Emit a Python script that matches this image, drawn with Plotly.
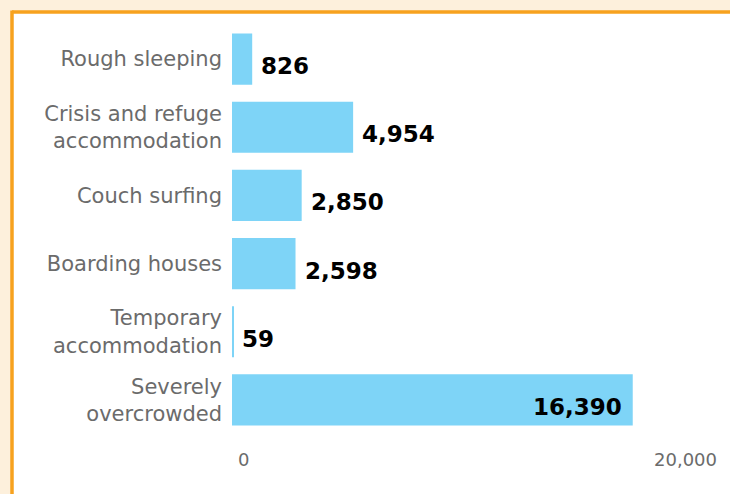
import plotly.graph_objects as go

categories = ["Rough sleeping", "Crisis and refuge<br>accommodation", "Couch surfing",
              "Boarding houses", "Temporary<br>accommodation", "Severely<br>overcrowded"]
values = [826, 4954, 2850, 2598, 59, 16390]
value_labels = ["826", "4,954", "2,850", "2,598", "59", "16,390"]
tick_values = [0, 20000]
tick_labels = ["0", "20,000"]

W, H = 730, 494
L, R, T, B = 232, 9, 25, 60
pw, ph = W - L - R, H - T - B
XMAX = 20000

def px_x(px):
    return (px - L) / pw

def px_y(py):
    return (H - B - py) / ph

fig = go.Figure(go.Bar(
    x=values, y=categories, orientation="h",
    marker=dict(color="#7ED4F7", line=dict(width=0)),
    hoverinfo="skip",
))

annotations = []
for cat, v, lab in zip(categories, values, value_labels):
    inside = v / XMAX > 0.7
    annotations.append(dict(
        x=v, y=cat, xref="x", yref="y", text=lab, showarrow=False,
        xanchor="right" if inside else "left",
        xshift=-9 if inside else 7, yshift=-7,
        font=dict(family="DejaVu Sans", size=23, color="#000000", weight="bold"),
    ))
for tv, tl in zip(tick_values, tick_labels):
    annotations.append(dict(
        x=tv, y=0, xref="x", yref="paper", text=tl, showarrow=False,
        xanchor="left" if tv == 0 else "right", yanchor="top",
        xshift=4 if tv == 0 else -2, yshift=-13,
        font=dict(family="DejaVu Sans", size=18, color="#6b6b6b"),
    ))

shapes = [
    dict(type="rect", xref="paper", yref="paper", layer="below",
         x0=px_x(12), x1=px_x(W + 5), y0=px_y(H + 5), y1=px_y(12),
         fillcolor="#FFFFFF", line=dict(width=0)),
    dict(type="line", xref="paper", yref="paper", layer="below",
         x0=px_x(12), x1=px_x(W + 5), y0=px_y(12), y1=px_y(12),
         line=dict(color="#F7A21E", width=3.5)),
    dict(type="line", xref="paper", yref="paper", layer="below",
         x0=px_x(12), x1=px_x(12), y0=px_y(10.5), y1=px_y(H + 5),
         line=dict(color="#F7A21E", width=3.5)),
]

fig.update_layout(
    width=W, height=H,
    margin=dict(l=L, r=R, t=T, b=B, pad=0),
    paper_bgcolor="#FDF0DC", plot_bgcolor="rgba(0,0,0,0)",
    bargap=0.25, showlegend=False, hovermode=False,
    xaxis=dict(range=[0, XMAX], showgrid=False, zeroline=False, showline=False,
               showticklabels=False, ticks="", fixedrange=True),
    yaxis=dict(autorange="reversed", showgrid=False, zeroline=False, showline=False,
               ticks="", ticklabelstandoff=9, fixedrange=True,
               tickfont=dict(family="DejaVu Sans", size=21, color="#6b6b6b")),
    annotations=annotations, shapes=shapes,
)

fig.write_html(
    "out.html",
    config={"displayModeBar": False},
    post_script="document.body.style.margin='0';document.body.style.overflow='hidden';"
                "document.body.style.background='#FDF0DC';",
)
